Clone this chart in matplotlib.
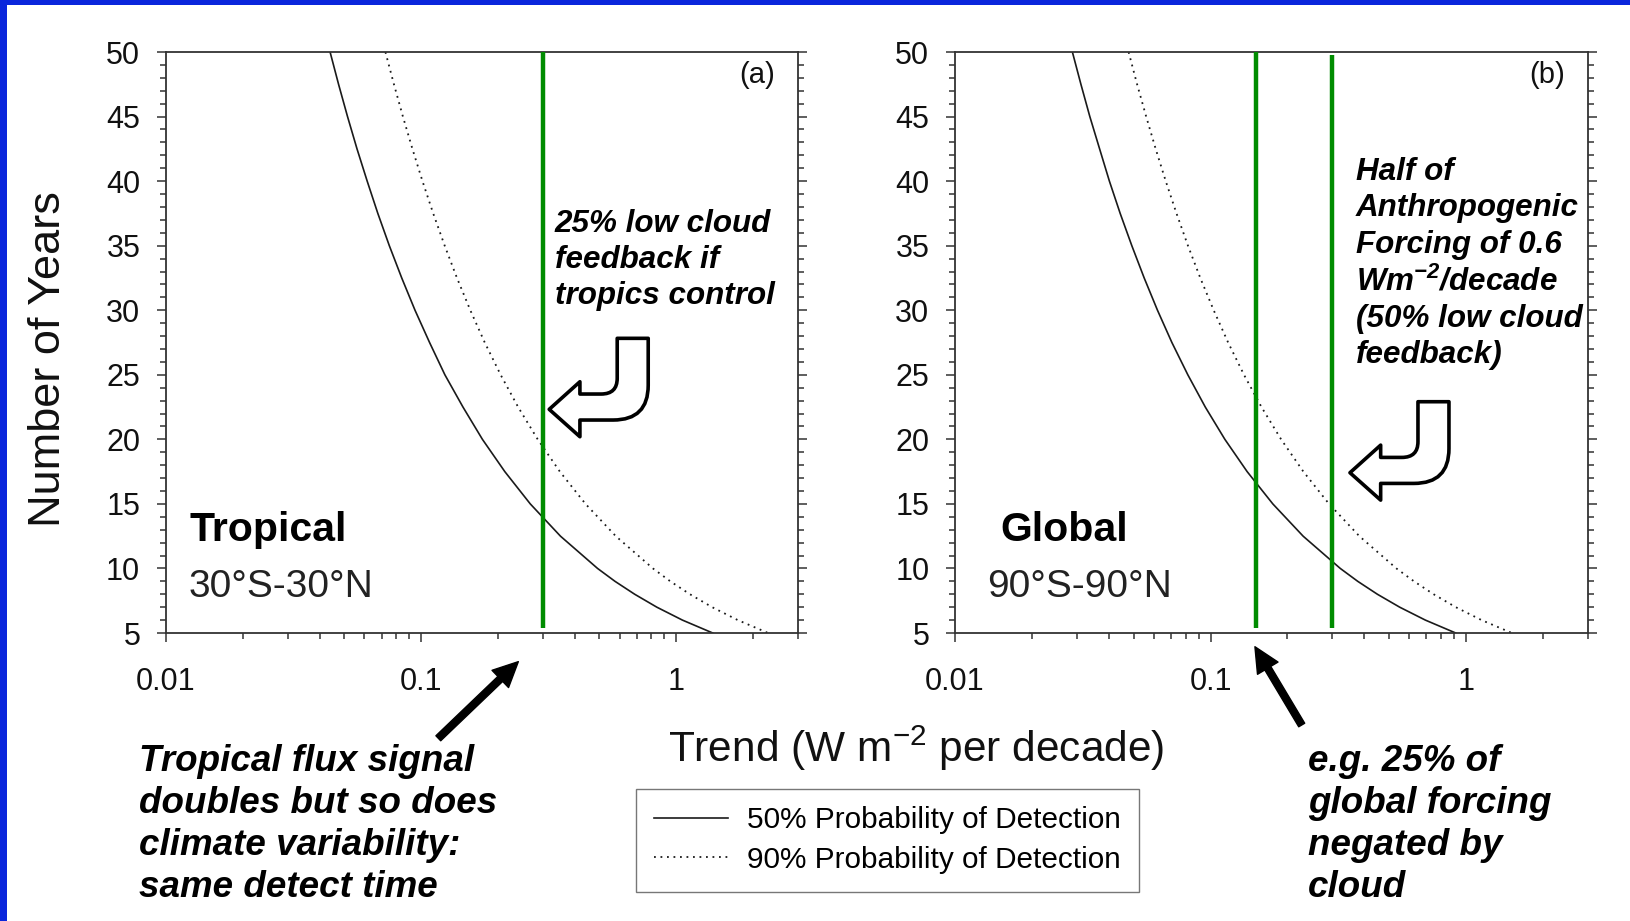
import matplotlib
matplotlib.use('Agg')
import matplotlib.pyplot as plt
from matplotlib.patches import FancyArrowPatch, Rectangle, PathPatch
from matplotlib.path import Path
from matplotlib.transforms import Affine2D, ScaledTranslation
from matplotlib.ticker import MultipleLocator, LogLocator, NullFormatter

plt.rcParams['font.family'] = 'Liberation Sans'
plt.rcParams['mathtext.fontset'] = 'custom'
plt.rcParams['mathtext.rm'] = 'Liberation Sans'
plt.rcParams['mathtext.it'] = 'Liberation Sans:italic'
plt.rcParams['mathtext.bf'] = 'Liberation Sans:bold:italic'

# years needed to detect a trend
years = [50, 47.5, 45, 42.5, 40, 37.5, 35, 32.5, 30, 27.5, 25, 22.5, 20,
         17.5, 15, 12.5, 10, 9, 8, 7, 6, 5]

# trend (W m-2 per decade) at those years
tropical_50 = [0.0440, 0.0475, 0.0515, 0.0561, 0.0615, 0.0677, 0.0751, 0.0840,
               0.0947, 0.108, 0.124, 0.146, 0.174, 0.213, 0.268, 0.352,
               0.492, 0.576, 0.688, 0.840, 1.058, 1.391]
tropical_90 = [0.0725, 0.0783, 0.0849, 0.0925, 0.1013, 0.1116, 0.1238, 0.1383,
               0.1560, 0.1777, 0.2051, 0.2402, 0.2866, 0.3501, 0.4412, 0.580,
               0.811, 0.949, 1.133, 1.384, 1.744, 2.293]
global_50 = [0.0288, 0.0311, 0.0337, 0.0368, 0.0402, 0.0443, 0.0492, 0.0550,
             0.0620, 0.0706, 0.0815, 0.0954, 0.1138, 0.1391, 0.1753, 0.2304,
             0.322, 0.377, 0.450, 0.550, 0.693, 0.911]
global_90 = [0.0478, 0.0516, 0.0560, 0.0610, 0.0668, 0.0736, 0.0816, 0.0912,
             0.1029, 0.1172, 0.1352, 0.1583, 0.1889, 0.2309, 0.2909, 0.3824,
             0.534, 0.626, 0.747, 0.912, 1.150, 1.512]

# green reference trends
tropical_marks = [0.3]
tropical_mark_tops = [50]
global_marks = [0.15, 0.3]
global_mark_tops = [50, 49.8]
mark_bottom = 5.4

year_ticks = list(range(5, 55, 5))
trend_ticks = [0.01, 0.1, 1]
trend_labels = ['0.01', '0.1', '1']

legend_labels = ['50% Probability of Detection', '90% Probability of Detection']

GREEN = '#008c00'
AXIS = '#333333'
INK = '#1a1a1a'

# outline of the bent "return" arrow, in pixels from its tip
hook_verts = [(0, 0), (30.7, 27.6), (30.7, 15.3), (52, 15.3),
              (68, 15.3), (68, 31), (68, 71), (99, 71), (99, 24),
              (99, -10.7), (64, -10.7), (30.7, -10.7), (30.7, -27.4), (0, 0)]
hook_codes = [Path.MOVETO, Path.LINETO, Path.LINETO, Path.LINETO,
              Path.CURVE3, Path.CURVE3, Path.LINETO, Path.LINETO, Path.LINETO,
              Path.CURVE3, Path.CURVE3, Path.LINETO, Path.LINETO, Path.CLOSEPOLY]
hook_path = Path(hook_verts, hook_codes)


def setup_panel(ax, tag):
    ax.set_xscale('log')
    ax.set_xlim(0.01, 3)
    ax.set_ylim(5, 50)
    ax.set_yticks(year_ticks)
    ax.yaxis.set_minor_locator(MultipleLocator(1))
    ax.set_xticks(trend_ticks, trend_labels)
    ax.xaxis.set_minor_locator(LogLocator(base=10, subs=range(2, 10)))
    ax.xaxis.set_minor_formatter(NullFormatter())
    ax.tick_params(which='both', direction='out', color=AXIS,
                   labelcolor='#111111', labelsize=22, width=1.1)
    ax.tick_params(axis='y', which='both', right=True, pad=12)
    ax.tick_params(axis='x', pad=18)
    ax.tick_params(which='major', length=6.5)
    ax.tick_params(which='minor', length=4.3)
    for s in ax.spines.values():
        s.set_color(AXIS)
        s.set_linewidth(1.3)
    ax.text(0.964, 0.96, tag, transform=ax.transAxes, ha='right',
            va='center', fontsize=21, color='#111111')


def hook_arrow(ax, tip):
    trans = (Affine2D().scale(fig.dpi / 100)
             + ScaledTranslation(tip[0], tip[1], ax.transAxes))
    ax.add_patch(PathPatch(hook_path, transform=trans, fc='white',
                           ec='black', lw=2.6, joinstyle='round',
                           clip_on=False, zorder=5))


fig = plt.figure(figsize=(16.3, 9.21), dpi=100)
ax_a = fig.add_axes([0.1018, 0.3127, 0.3877, 0.6308])
ax_b = fig.add_axes([0.5859, 0.3127, 0.3883, 0.6308])

dotted = (0, (1, 2.6))

l50, = ax_a.plot(tropical_50, years, color=INK, lw=1.2)
l90, = ax_a.plot(tropical_90, years, color=INK, lw=1.3, ls=dotted)
ax_a.vlines(tropical_marks, mark_bottom, tropical_mark_tops, color=GREEN,
            lw=3.2, zorder=3)
setup_panel(ax_a, '(a)')

ax_b.plot(global_50, years, color=INK, lw=1.2)
ax_b.plot(global_90, years, color=INK, lw=1.3, ls=dotted)
ax_b.vlines(global_marks, mark_bottom, global_mark_tops, color=GREEN,
            lw=3.2, zorder=3)
setup_panel(ax_b, '(b)')

# region names
ax_a.text(0.038, 0.1587, 'Tropical', transform=ax_a.transAxes,
          fontsize=29.5, fontweight='bold', va='baseline')
ax_a.text(0.035, 0.0621, '30°S-30°N', transform=ax_a.transAxes,
          fontsize=28, va='baseline', color='#222222')
ax_b.text(0.071, 0.1587, 'Global', transform=ax_b.transAxes,
          fontsize=29.5, fontweight='bold', va='baseline')
ax_b.text(0.051, 0.0621, '90°S-90°N', transform=ax_b.transAxes,
          fontsize=28, va='baseline', color='#222222')

# notes inside the panels
note = dict(fontsize=22.6, fontweight='bold', fontstyle='italic', va='top',
            ha='left', linespacing=1.27)
ax_a.text(0.615, 0.730, '25% low cloud\nfeedback if\ntropics control',
          transform=ax_a.transAxes, **note)
ax_b.text(0.633, 0.819,
          'Half of\nAnthropogenic\nForcing of 0.6\n'
          'Wm$\\mathbf{^{-2}}$/decade\n(50% low cloud\nfeedback)',
          transform=ax_b.transAxes, **note)

hook_arrow(ax_a, (0.6065, 0.3850))
hook_arrow(ax_b, (0.6240, 0.2759))

# shared axis labels
fig.text(0.5619, 0.1726, 'Trend (W m$^{-2}$ per decade)', ha='center',
         va='baseline', fontsize=30.5, color='#111111')
fig.text(0.030, 0.6106, 'Number of Years', rotation=90, ha='center',
         va='center', fontsize=32.5, color='#111111')

# notes below the panels
low_note = dict(fontsize=26.5, fontweight='bold', fontstyle='italic',
                va='top', ha='left', linespacing=1.26)
fig.text(0.0855, 0.1919, 'Tropical flux signal\ndoubles but so does\n'
         'climate variability:\nsame detect time', **low_note)
fig.text(0.8023, 0.1919, 'e.g. 25% of\nglobal forcing\nnegated by\ncloud',
         **low_note)

for tail, head in [((0.2689, 0.1984), (0.3180, 0.2816)),
                   ((0.7986, 0.2128), (0.7699, 0.2978))]:
    fig.add_artist(FancyArrowPatch(
        tail, head, transform=fig.transFigure,
        arrowstyle='simple,head_length=0.9,head_width=0.86,tail_width=0.25',
        mutation_scale=20, color='black', shrinkA=0, shrinkB=0))

fig.legend([l50, l90], legend_labels, loc='center',
           bbox_to_anchor=(0.5445, 0.0879), fontsize=21.4, frameon=True,
           fancybox=False, edgecolor='#777777', framealpha=1,
           handlelength=2.5, handletextpad=0.65, labelspacing=0.38,
           borderpad=0.6)

# slide frame
fig.add_artist(Rectangle((0, 0), 0.0043, 1, transform=fig.transFigure,
                         color='#0a26dc', lw=0))
fig.add_artist(Rectangle((0, 1 - 0.0054), 1, 0.0054, transform=fig.transFigure,
                         color='#0a26dc', lw=0))

fig.savefig('out.png', dpi=100)
